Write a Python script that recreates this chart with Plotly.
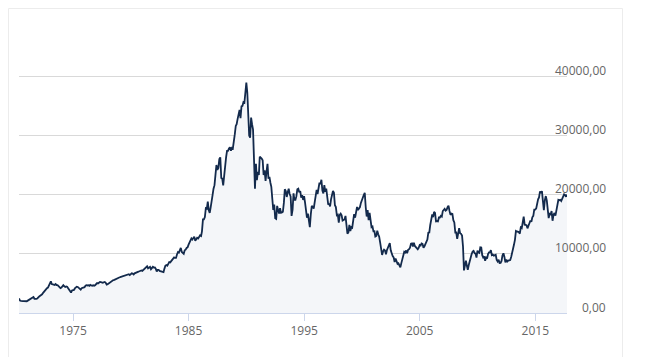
import pandas as pd
import plotly.graph_objects as go

# Monthly index levels (month end)
start_month_end = "1970-04-30"
index_values = [
    # 1970 (Apr-Dec)
    2450, 2100, 2060, 1990, 2010, 2020, 1980, 1960, 1987,
    # 1971
    2090, 2170, 2330, 2430, 2500, 2530, 2700, 2400, 2350, 2400, 2450, 2714,
    # 1972
    2790, 2930, 3030, 3150, 3400, 3600, 3900, 4050, 4200, 4300, 4700, 5207,
    # 1973
    5350, 4900, 4880, 4800, 4750, 4900, 4700, 4700, 4550, 4500, 4200, 4307,
    # 1974
    4500, 4700, 4500, 4400, 4500, 4450, 4200, 4000, 3700, 3450, 3800, 3817,
    # 1975
    3900, 4150, 4300, 4450, 4400, 4300, 4100, 3950, 4200, 4250, 4300, 4359,
    # 1976
    4600, 4700, 4650, 4700, 4600, 4750, 4650, 4600, 4700, 4600, 4700, 4990,
    # 1977
    5050, 5000, 5150, 5250, 5200, 5150, 5100, 5200, 5250, 5100, 4800, 4866,
    # 1978
    5000, 5100, 5300, 5450, 5550, 5550, 5600, 5700, 5800, 5950, 5900, 6001,
    # 1979
    6050, 6100, 6100, 6150, 6200, 6250, 6300, 6400, 6450, 6550, 6400, 6569,
    # 1980
    6700, 6650, 6500, 6700, 6800, 6850, 6900, 7000, 7050, 7150, 7200, 7116,
    # 1981
    7300, 7400, 7550, 7700, 7900, 7550, 7650, 7800, 7400, 7600, 7800, 7681,
    # 1982
    7700, 7500, 7000, 7300, 7300, 7100, 7050, 7000, 6900, 6900, 7500, 8016,
    # 1983
    8100, 8000, 8300, 8600, 8550, 8800, 9000, 9150, 9400, 9300, 9300, 9893,
    # 1984
    10300, 10200, 10800, 11000, 10300, 10100, 10000, 10600, 10700, 11000, 11100, 11542,
    # 1985
    11900, 12200, 12600, 12400, 12700, 12900, 12200, 12500, 12700, 12600, 12900, 13113,
    # 1986
    13000, 13800, 15800, 15800, 16200, 17700, 17600, 18800, 17400, 16900, 17850, 18701,
    # 1987
    20000, 21000, 21600, 23300, 25000, 24200, 24500, 26000, 26300, 22800, 22700, 21564,
    # 1988
    23600, 25000, 26300, 27400, 27400, 27800, 28000, 27400, 27900, 27800, 29600, 30159,
    # 1989
    31600, 31900, 32800, 33700, 34300, 32900, 34900, 35000, 35600, 35500, 37300, 38916,
    # 1990
    37200, 34600, 29980, 29600, 33000, 31900, 31000, 25900, 20984, 25200, 22450, 23849,
    # 1991
    23300, 26400, 26300, 26100, 25800, 23300, 24100, 22300, 23900, 25200, 22700, 22984,
    # 1992
    22000, 21300, 19300, 17400, 18300, 16000, 15900, 18100, 17400, 16800, 17700, 16925,
    # 1993
    17000, 17100, 18600, 20900, 20600, 19600, 20400, 21000, 20100, 19700, 16400, 17417,
    # 1994
    20200, 19100, 19100, 19700, 20900, 21000, 20400, 20600, 19500, 19900, 19100, 19723,
    # 1995
    18600, 17000, 16100, 16800, 15400, 14500, 16700, 18100, 17900, 17650, 18700, 19868,
    # 1996
    20800, 20100, 21400, 22000, 21800, 22500, 20700, 20200, 21600, 20500, 21000, 19361,
    # 1997
    18300, 18500, 18000, 19200, 20100, 20600, 20300, 18200, 17900, 16500, 16600, 15259,
    # 1998
    16600, 16800, 16500, 15600, 15700, 15800, 16400, 14100, 13400, 13600, 14900, 13842,
    # 1999
    14500, 14400, 15800, 16700, 16100, 17500, 17900, 17400, 17600, 17900, 18600, 18934,
    # 2000
    19500, 19900, 20300, 17900, 16300, 17400, 15700, 16900, 15700, 14500, 14600, 13786,
    # 2001
    13800, 12900, 13000, 13900, 13300, 12900, 11900, 10700, 9800, 10400, 10700, 10543,
    # 2002
    9900, 10600, 11000, 11500, 11800, 10600, 10000, 9600, 9400, 8600, 9200, 8579,
    # 2003
    8300, 8400, 7970, 7700, 8420, 9080, 9560, 10340, 10220, 10560, 10100, 10677,
    # 2004
    10780, 11040, 11720, 11760, 11240, 11860, 11330, 11080, 10820, 10770, 11000, 11489,
    # 2005
    11390, 11740, 11670, 11010, 11280, 11580, 11900, 12410, 13570, 13610, 14870, 16111,
    # 2006
    16650, 16200, 17060, 16900, 15470, 15500, 15460, 16140, 16130, 16400, 16270, 17226,
    # 2007
    17380, 17600, 17290, 17400, 17880, 18140, 17250, 16570, 16790, 16740, 15680, 15307,
    # 2008
    13590, 13600, 12530, 13850, 14340, 13480, 13380, 13070, 11260, 7200, 8510, 8860,
    # 2009
    7990, 7300, 8110, 8830, 9520, 9960, 10360, 10490, 10130, 10030, 9350, 10546,
    # 2010
    10200, 10130, 11090, 11060, 9770, 9380, 9540, 8820, 9370, 9200, 9940, 10229,
    # 2011
    10240, 10620, 9760, 9850, 9690, 9820, 9830, 8960, 8700, 8990, 8430, 8455,
    # 2012
    8800, 9720, 10080, 9520, 8540, 9010, 8700, 8840, 8870, 8930, 9450, 10395,
    # 2013
    11140, 11560, 12400, 13860, 13770, 13680, 13670, 13390, 14460, 14330, 15660, 16291,
    # 2014
    14910, 14840, 14830, 14300, 14630, 15160, 15620, 15420, 16170, 16410, 17460, 17451,
    # 2015
    17670, 18800, 19210, 19520, 20560, 20240, 20590, 18890, 17390, 19080, 19750, 19034,
    # 2016
    17520, 16030, 16760, 16670, 17230, 15580, 16570, 16890, 16450, 17430, 18310, 19114,
    # 2017 (Jan-Sep)
    19040, 19120, 18910, 19200, 19650, 20030, 19930, 19650, 20000,
]

y_tick_values = [0, 10000, 20000, 30000, 40000]
y_tick_labels = ["0,00", "10000,00", "20000,00", "30000,00", "40000,00"]
x_tick_years = ["1975-01-01", "1985-01-01", "1995-01-01", "2005-01-01", "2015-01-01"]
x_tick_labels = ["1975", "1985", "1995", "2005", "2015"]

dates = pd.date_range(start_month_end, periods=len(index_values), freq=pd.offsets.MonthEnd())

# The page body adds an 8px offset, so figure coordinates = window - 8
W, H = 645, 357
ML, MT = 11, 9
plot_right, plot_bottom = 559, 305
MR, MB = W - plot_right, H - plot_bottom
pw = W - ML - MR
ph = H - MT - MB

fig = go.Figure()
fig.add_trace(go.Scatter(
    x=dates, y=index_values, mode="lines",
    line=dict(color="#132a4c", width=1.8),
    fill="tozeroy", fillcolor="#f4f6f9",
    hoverinfo="skip",
))

font_family = "Open Sans, Noto Sans, DejaVu Sans, sans-serif"

annotations = []
for v, lab in zip(y_tick_values, y_tick_labels):
    annotations.append(dict(
        x=1 + (600 - plot_right) / pw, xref="paper", xanchor="right",
        y=v, yref="y", yanchor="middle", yshift=6,
        text=lab, showarrow=False,
        font=dict(family=font_family, size=12, color="#666666"),
    ))

fig.update_layout(
    width=W, height=H,
    margin=dict(l=ML, r=MR, t=MT, b=MB, pad=0),
    paper_bgcolor="white", plot_bgcolor="white",
    showlegend=False,
    annotations=annotations,
    shapes=[dict(
        type="rect", xref="paper", yref="paper",
        x0=(0.5 - ML) / pw, x1=(614.5 - ML) / pw,
        y0=(plot_bottom - 400) / ph, y1=(plot_bottom - 0.5) / ph,
        line=dict(color="#ececec", width=1), fillcolor="rgba(0,0,0,0)",
        layer="below",
    )],
    xaxis=dict(
        range=[dates[0], dates[-1]],
        tickvals=x_tick_years, ticktext=x_tick_labels,
        showgrid=False, showline=True, linecolor="#ccd6eb", linewidth=1,
        ticks="outside", ticklen=7, tickcolor="#ccd6eb", tickwidth=1,
        tickfont=dict(family=font_family, size=12, color="#666666"),
        zeroline=False, fixedrange=True,
    ),
    yaxis=dict(
        range=[0, 50000], tickvals=[0, 10000, 20000, 30000, 40000, 50000],
        showticklabels=False, showgrid=True, gridcolor="#d9d9d9", gridwidth=1,
        zeroline=False, showline=False, ticks="", fixedrange=True,
    ),
)

fig.write_html("out.html")
